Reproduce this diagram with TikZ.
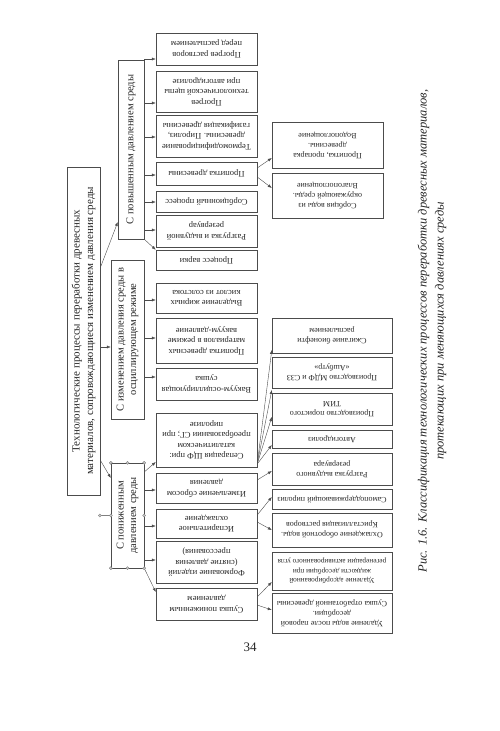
\documentclass[tikz,border=0pt]{standalone}
\usepackage{fontspec}
\setmainfont{Liberation Serif}
\usepackage{graphicx}
\usetikzlibrary{arrows.meta}

\newcommand{\flip}[2]{\rotatebox{180}{\parbox{#1}{\centering #2}}}
\newcommand{\turn}[2]{\rotatebox{90}{\parbox{#1}{\centering #2}}}

\begin{document}
\begin{tikzpicture}[
    x=1pt, y=-1pt,
    >={Latex[length=4pt, width=3pt]},
    every node/.style={draw=black!70, inner sep=0pt, text=black!85},
    leaf/.style={minimum width=101pt, font=\fontsize{8.5}{10.5}\selectfont},
    far/.style={minimum width=120pt, font=\fontsize{8}{10}\selectfont},
    group/.style={font=\fontsize{10.5}{12.5}\selectfont},
    handle/.style={draw=gray, fill=gray!40, circle, minimum size=3pt},
    link/.style={draw=black!70, ->}
  ]
  \fill [white] (0,0) rectangle (500,731);
  \useasboundingbox (0,0) rectangle (500,731);

  % root and the three groups
  \node (title) [minimum width=33pt, minimum height=328pt, font=\fontsize{11}{13.5}\selectfont] at (83.5, 331)
    {\turn{322pt}{Технологические процессы переработки древесных\\ материалов, сопровождающиеся изменением давления среды}};
  \node (c1) [group, minimum width=26pt, minimum height=179pt] at (131, 149.5) {\turn{175pt}{С повышенным давлением среды}};
  \node (c2) [group, minimum width=33pt, minimum height=159pt] at (127.5, 339.5) {\turn{155pt}{С изменением давления среды в\\ осциллирующем режиме}};
  \node (c3) [group, minimum width=33pt, minimum height=105pt] at (127.5, 515.5) {\turn{100pt}{С пониженным\\ давлением среды}};

  % processes
  \node (l1) [leaf, minimum height=32pt] at (206.5, 49) {\flip{97pt}{Прогрев растворов\\ перед распылением}};
  \node (l2) [leaf, minimum height=41pt] at (206.5, 91.5) {\flip{97pt}{Прогрев\\ технологической щепы\\ при автогидролизе}};
  \node (l3) [leaf, minimum height=42pt] at (206.5, 136) {\flip{97pt}{Термомодифицирование\\ древесины. Пиролиз,\\ газификация древесины}};
  \node (l4) [leaf, minimum height=23pt] at (206.5, 173.5) {\flip{97pt}{Пропитка древесины}};
  \node (l5) [leaf, minimum height=21pt] at (206.5, 201.5) {\flip{97pt}{Сорбционный процесс}};
  \node (l6) [leaf, minimum height=32pt] at (206.5, 231) {\flip{97pt}{Разгрузка и выдувной\\ резервуар}};
  \node (l7) [leaf, minimum height=20pt] at (206.5, 260) {\flip{97pt}{Процесс варки}};
  \node (l8) [leaf, minimum height=30pt] at (206.5, 298) {\flip{97pt}{Выделение жирных\\ кислот из солстока}};
  \node (l9) [leaf, minimum height=45pt] at (206.5, 340.5) {\flip{97pt}{Пропитка древесных\\ материалов в режиме\\ вакуум-давление}};
  \node (l10) [leaf, minimum height=32pt] at (206.5, 384) {\flip{97pt}{Вакуум-осциллирующая\\ сушка}};
  \node (l11) [leaf, minimum height=54pt] at (206.5, 440) {\flip{97pt}{Сепарация ЩФ при:\\ каталитическом\\ преобразовании СГ; при\\ пиролизе}};
  \node (l12) [leaf, minimum height=30pt] at (206.5, 488) {\flip{97pt}{Измельчение сбросом\\ давления}};
  \node (l13) [leaf, minimum height=29pt] at (206.5, 523.5) {\flip{97pt}{Испарительное\\ охлаждение}};
  \node (l14) [leaf, minimum height=42pt] at (206.5, 562) {\flip{97pt}{Формование изделий\\ (снятие давления\\ прессования)}};
  \node (l15) [leaf, minimum height=32pt] at (206.5, 604) {\flip{97pt}{Сушка пониженным\\ давлением}};

  % applications
  \node (fa) [far, minimum width=111pt, minimum height=46pt] at (327.5, 145) {\flip{107pt}{Пропитка, пропарка\\ древесины.\\ Водопоглощение}};
  \node (fb) [far, minimum width=111pt, minimum height=45pt] at (327.5, 195.5) {\flip{107pt}{Сорбция воды из\\ окружающей среды.\\ Влагопоглощение}};
  \node (fc) [far, minimum height=35pt] at (332, 335.5) {\flip{117pt}{Сжигание бионефти\\ распылением}};
  \node (fd) [far, minimum height=31pt] at (332, 372.5) {\flip{117pt}{Производство МДФ и СЗЗ\\ «Ашбутр»}};
  \node (fe) [far, minimum height=32pt] at (332, 409) {\flip{117pt}{Производство пористого\\ ТИМ}};
  \node (ff) [far, minimum height=18pt] at (332, 439) {\flip{117pt}{Автогидролиз}};
  \node (fg) [far, minimum height=32pt] at (332, 469) {\flip{117pt}{Разгрузка выдувного\\ резервуара}};
  \node (fh) [far, minimum height=20pt] at (332, 499) {\flip{117pt}{Самоподдерживающий пиролиз}};
  \node (fi) [far, minimum height=34pt] at (332, 530) {\flip{117pt}{Охлаждение оборотной воды.\\ Кристаллизация растворов}};
  \node (fj) [far, minimum height=38pt, font=\fontsize{7.3}{9.8}\selectfont] at (332, 571) {\flip{118pt}{Удаление адсорбированной\\ жидкости десорбции при\\ регенерации активированного угля}};
  \node (fk) [far, minimum height=40pt] at (332, 613) {\flip{117pt}{Удаление воды после паровой\\ десорбции.\\ Сушка отработанной древесины}};

  % caption and page number
  \node (cap) [draw=none, font=\itshape\fontsize{12.5}{17}\selectfont] at (432, 331)
    {\turn{540pt}{Рис. 1.6. Классификация технологических процессов переработки древесных материалов,\\ протекающих при меняющихся давлениях среды}};
  \node (page) [draw=none, font=\fontsize{13}{15}\selectfont] at (250, 647) {34};

  % root to groups
  \draw [link] (title.east |- 0,268) -- (c1.west |- 0,222);
  \draw [link] (title.east |- 0,347) -- (c2.west |- 0,347);
  \draw [link] (title.east |- 0,460) -- (c3.west |- 0,478);

  % groups to processes
  \draw [link] (c1.east |- 0,59) -- (l1.west |- 0,59);
  \draw [link] (c1.east |- 0,103) -- (l2.west |- 0,103);
  \draw [link] (c1.east |- 0,137) -- (l3.west |- 0,137);
  \draw [link] (c1.east |- 0,175) -- (l4.west |- 0,175);
  \draw [link] (c1.east |- 0,202) -- (l5.west |- 0,202);
  \draw [link] (c1.east |- 0,230) -- (l6.west |- 0,230);
  \draw [link] (c1.south east) -- (l7.north west);
  \draw [link] (c2.east |- 0,300) -- (l8.west |- 0,300);
  \draw [link] (c2.east |- 0,338) -- (l9.west |- 0,338);
  \draw [link] (c2.east |- 0,377) -- (l10.west |- 0,377);
  \draw [link] (c3.east |- 0,472) -- (l11.west |- 0,462);
  \draw [link] (c3.east |- 0,490) -- (l12.west |- 0,490);
  \draw [link] (c3.east |- 0,526) -- (l13.west |- 0,526);
  \draw [link] (c3.east |- 0,560) -- (l14.west |- 0,560);
  \draw [link] (c3.south east) -- (l15.west |- 0,592);

  % processes to applications
  \draw [link] (l4.east |- 0,168) -- (fa.west |- 0,158);
  \draw [link] (l4.east |- 0,177) -- (fb.west |- 0,188);
  \foreach \t/\y in {fc/350, fd/390, fe/417, ff/445}
    \draw [link] (l11.east |- 0,464) -- (\t.west |- 0,\y);
  \draw [link] (l12.east |- 0,480) -- (fg.west |- 0,471);
  \draw [link] (l13.east |- 0,515) -- (fh.west |- 0,497);
  \draw [link] (l13.east |- 0,522) -- (fi.west |- 0,530);
  \draw [link] (l15.east |- 0,597) -- (fj.west |- 0,582);
  \draw [link] (l15.east |- 0,605) -- (fk.west |- 0,610);

  % selection handles on the lower group
  \draw [gray] (c3.west) -- ++(-11,0) node [handle] {};
  \foreach \p in {north west, north, north east, west, east, south west, south, south east}
    \node [handle] at (c3.\p) {};
\end{tikzpicture}
\end{document}
